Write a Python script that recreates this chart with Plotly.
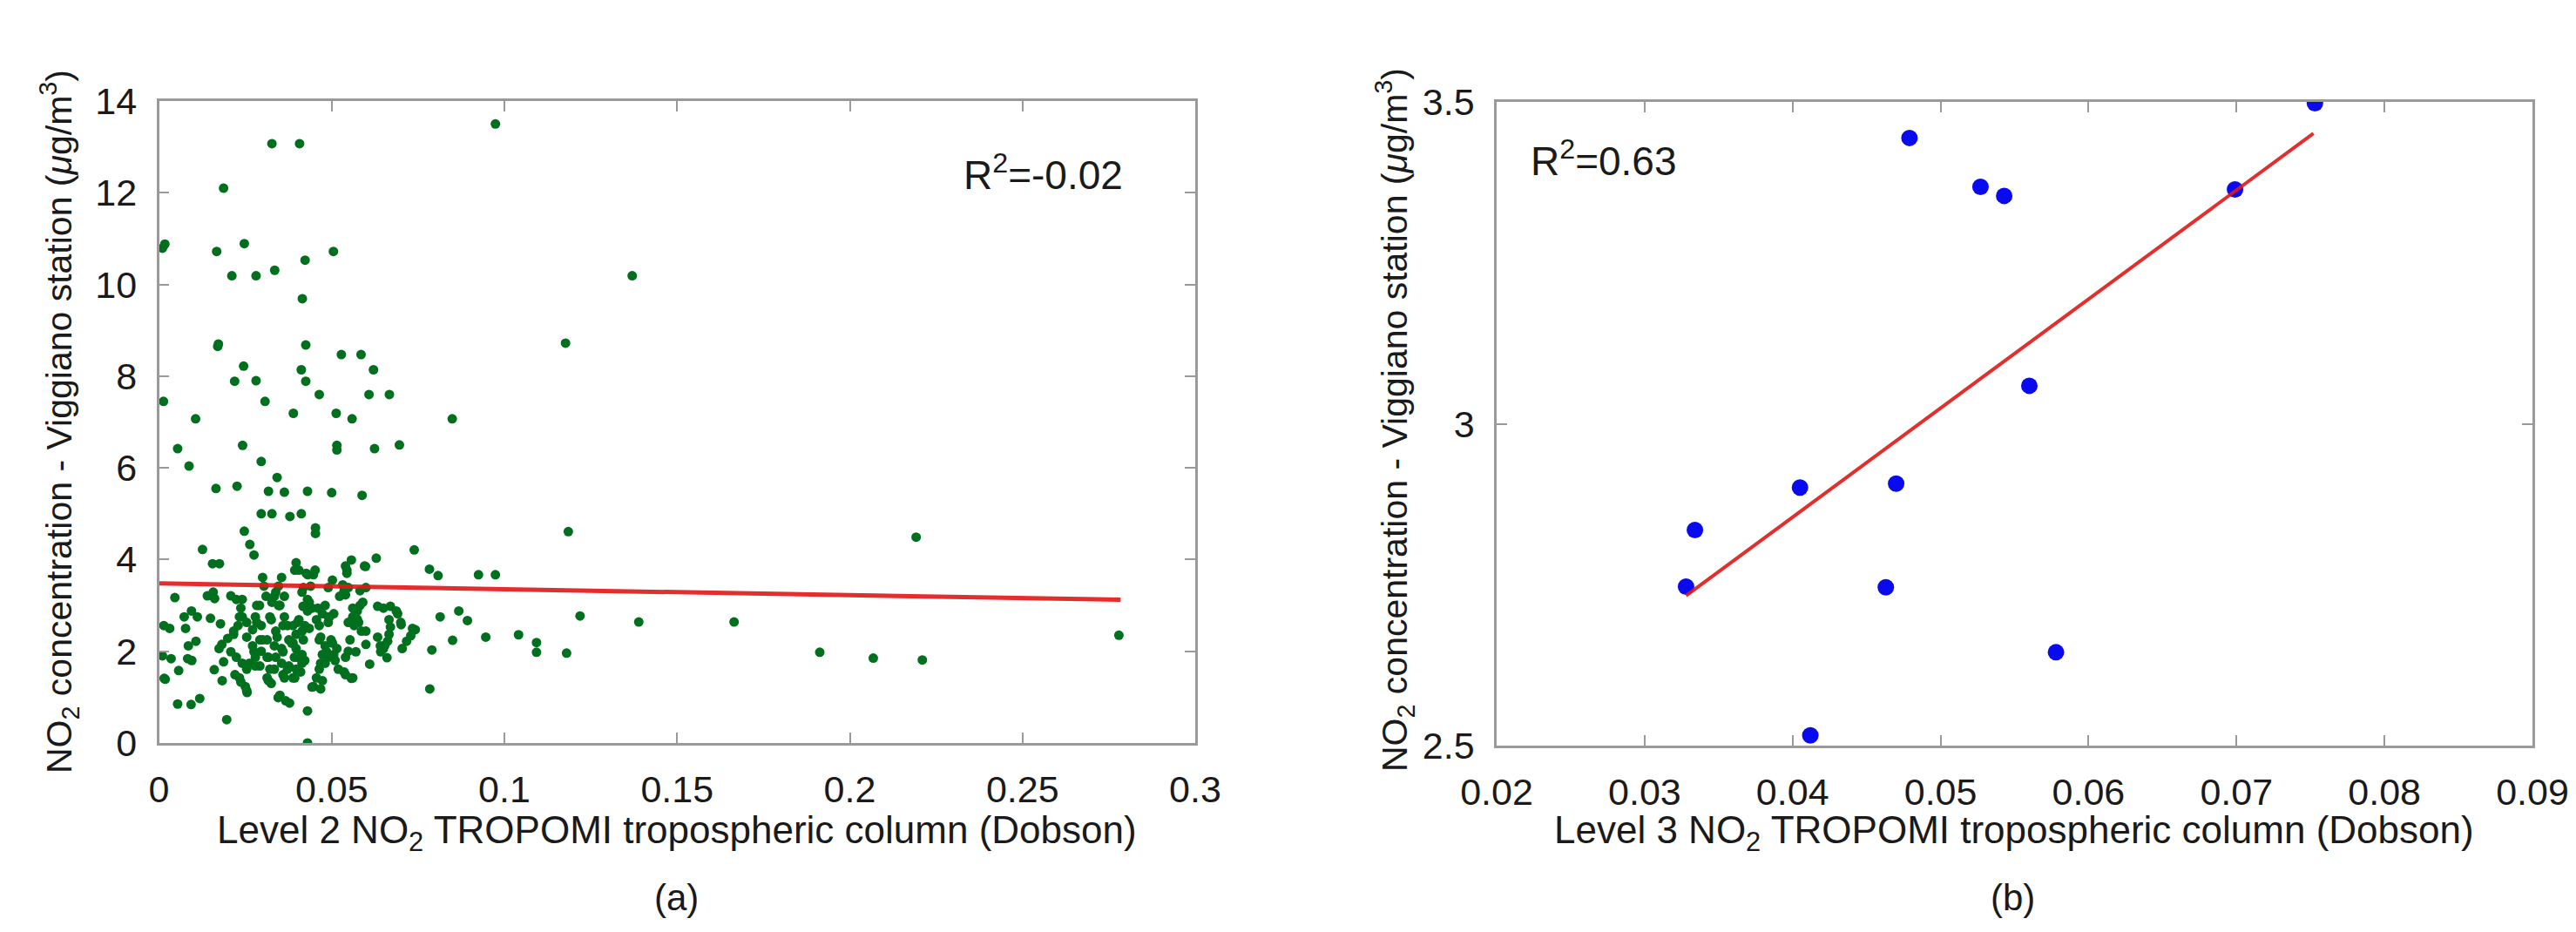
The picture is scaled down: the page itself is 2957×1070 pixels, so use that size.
import plotly.graph_objects as go

# ---------------- data: panel (a) Level 2 (x = column, y = NO2 concentration) ----------------
l2_upper = [(0.0974,13.50),(0.0327,13.07),(0.0407,13.07),(0.0187,12.10),(0.0010,10.79),(0.0017,10.88),
            (0.0167,10.72),(0.0247,10.89),(0.0505,10.72),(0.0423,10.53),(0.0211,10.19),(0.0281,10.19),
            (0.0335,10.31),(0.0415,9.69),(0.1370,10.19),(0.1177,8.72),(0.0170,8.65),(0.0172,8.70),
            (0.0425,8.68),(0.0528,8.47),(0.0585,8.47),(0.0245,8.22),(0.0412,8.14),(0.0621,8.14),
            (0.0219,7.89),(0.0281,7.90),(0.0425,7.89),(0.0013,7.45),(0.0307,7.45),(0.0464,7.60),
            (0.0608,7.60),(0.0667,7.60),(0.0106,7.07),(0.0389,7.19),(0.0513,7.19),(0.0559,7.07),
            (0.0849,7.07),(0.0054,6.42),(0.0242,6.49),(0.0515,6.49),(0.0515,6.39),(0.0624,6.42),
            (0.0696,6.50),(0.0087,6.04),(0.0296,6.14),(0.0342,5.79)]

l2_middle = [(0.0165,5.55),(0.0226,5.60),(0.0317,5.49),(0.0363,5.47),(0.0430,5.49),(0.0500,5.46),
             (0.0588,5.40),(0.0296,5.00),(0.0327,5.00),(0.0379,4.94),(0.0412,5.00),(0.0453,4.69),
             (0.0453,4.57),(0.0247,4.62),(0.0263,4.33),(0.0275,4.10),(0.0126,4.22),(0.0155,3.91),
             (0.0175,3.91),(0.1185,4.61),(0.0739,4.21),(0.0629,4.03),(0.0598,3.85),(0.0783,3.79),
             (0.0808,3.65),(0.0925,3.67),(0.0974,3.67),(0.0046,3.17),(0.1219,2.77),(0.1389,2.64),
             (0.0814,2.75),(0.0868,2.88),(0.0893,2.67),(0.0850,2.24),(0.0946,2.31),(0.1041,2.36),
             (0.1093,2.19),(0.1093,1.98),(0.1180,1.96),(0.0790,2.03),(0.0784,1.18),(0.0015,1.41),
             (0.0057,1.58),(0.0054,0.85),(0.0093,0.84),(0.0118,0.97),(0.0196,0.51),(0.0345,0.99),
             (0.0378,0.87),(0.0430,0.70),(0.0430,0.00),(0.0255,1.10),(0.0183,1.36),(0.0160,1.60),
             (0.0610,1.72),(0.0557,1.41),(0.0443,1.22),(0.0152,3.22),(0.0291,3.00),(0.0654,2.13),
             (0.0660,1.86),(0.0642,1.99),(0.0701,2.58),(0.0734,2.50)]

l2_far = [(0.1665,2.64),(0.1913,1.98),(0.2068,1.85),(0.2210,1.81),(0.2192,4.49),(0.2779,2.35)]

l2_cluster_left = [(0.0300,3.61),(0.0355,3.61),(0.0304,3.42),(0.0346,3.42),(0.0140,3.21),(0.0161,3.15),
                   (0.0157,3.29),(0.0208,3.21),(0.0224,3.13),(0.0241,3.13),(0.0237,2.94),(0.0233,2.75),
                   (0.0229,2.56),(0.0216,2.37),(0.0199,2.28),(0.0182,2.15),(0.0174,2.06),(0.0310,3.20),
                   (0.0327,3.07),(0.0349,3.00),(0.0014,2.56),(0.0031,2.50),(0.0073,2.75),(0.0094,2.88),
                   (0.0111,2.75),(0.0077,2.50),(0.0149,2.72),(0.0178,2.60),(0.0254,2.63),(0.0271,2.47),
                   (0.0254,2.31),(0.0085,2.12),(0.0107,2.22),(0.0010,1.90),(0.0035,1.84),(0.0083,1.84),
                   (0.0095,1.80),(0.0018,1.39),(0.0187,1.77),(0.0224,1.87),(0.0241,1.74),(0.0254,1.61),
                   (0.0279,1.68),(0.0220,1.49),(0.0237,1.33),(0.0254,1.14),(0.0313,1.42),(0.0325,1.30),
                   (0.0279,2.75),(0.0296,2.56),(0.0321,2.75),(0.0338,2.44),(0.0363,2.75),(0.0372,2.56),
                   (0.0376,2.25),(0.0355,2.06),(0.0334,2.12),(0.0313,2.25),(0.0292,2.25),(0.0271,2.12),
                   (0.0296,2.00),(0.0313,1.87),(0.0338,1.87),(0.0355,1.74),(0.0321,1.61),(0.0372,1.61),
                   (0.0363,1.42),(0.0279,1.87),(0.0262,1.74),(0.0338,3.29),(0.0363,3.20),(0.0346,3.00)]

l2_cluster_right = [(0.0397,3.93),(0.0405,3.77),(0.0431,3.67),(0.0447,3.67),(0.0452,3.77),(0.0557,3.99),
                    (0.0540,3.86),(0.0544,3.70),(0.0595,3.86),(0.0502,3.55),(0.0490,3.39),(0.0532,3.45),
                    (0.0548,3.39),(0.0582,3.32),(0.0599,3.39),(0.0418,3.39),(0.0439,3.42),(0.0414,3.29),
                    (0.0523,3.20),(0.0540,3.23),(0.0430,3.13),(0.0435,3.07),(0.0417,2.98),(0.0430,2.88),
                    (0.0481,3.00),(0.0473,2.82),(0.0456,2.69),(0.0490,2.75),(0.0506,2.82),(0.0464,2.56),
                    (0.0490,2.63),(0.0582,3.00),(0.0590,3.07),(0.0574,2.88),(0.0561,2.75),(0.0548,2.63),
                    (0.0565,2.56),(0.0586,2.44),(0.0599,2.44),(0.0574,2.70),(0.0633,2.98),(0.0650,2.94),
                    (0.0670,2.98),(0.0687,2.88),(0.0691,2.82),(0.0666,2.69),(0.0670,2.53),(0.0666,2.37),
                    (0.0662,2.22),(0.0650,2.06),(0.0633,2.31),(0.0641,2.12),(0.0700,2.63),(0.0742,2.47),
                    (0.0729,2.34),(0.0717,2.22),(0.0704,2.06),(0.0599,2.15),(0.0548,2.00),(0.0540,1.87),
                    (0.0519,1.61),(0.0540,1.49),(0.0388,2.56),(0.0405,2.69),(0.0422,2.56),(0.0397,2.37),
                    (0.0414,2.44),(0.0388,2.18),(0.0397,2.06),(0.0392,1.87),(0.0414,1.93),(0.0422,1.80),
                    (0.0464,2.25),(0.0481,2.12),(0.0498,2.25),(0.0515,2.06),(0.0473,1.93),(0.0490,1.87),
                    (0.0506,1.93),(0.0481,1.74),(0.0464,1.61),(0.0456,1.42),(0.0473,1.36),(0.0447,1.23),
                    (0.0414,1.74),(0.0397,1.61),(0.0388,1.42)]

l2_cluster_core = [(0.0241,2.75),(0.0216,2.44),(0.0283,2.63),(0.0325,2.69),(0.0359,2.56),(0.0401,2.63),
                   (0.0435,2.50),(0.0300,2.25),(0.0342,2.31),(0.0384,2.18),(0.0418,2.25),(0.0275,1.99),
                   (0.0317,1.87),(0.0359,1.99),(0.0401,1.87),(0.0292,1.68),(0.0334,1.61),(0.0376,1.68),
                   (0.0410,1.55),(0.0359,1.49),(0.0393,1.42),(0.0460,2.94),(0.0494,2.75),(0.0468,2.31),
                   (0.0502,2.18),(0.0485,1.99),(0.0510,1.80),(0.0468,1.74),(0.0536,1.55),(0.0561,1.42),
                   (0.0561,2.94),(0.0578,2.63),(0.0553,2.25),(0.0570,1.99),(0.0208,1.99),(0.0233,1.42),
                   (0.0250,1.23),(0.0317,1.36),(0.0350,1.04),(0.0367,0.92),(0.0468,1.18),(0.0393,3.77),
                   (0.0426,3.70),(0.0544,3.77),(0.0536,3.32),(0.0334,3.20),(0.0350,3.00),(0.0443,2.94),
                   (0.0283,3.00)]

l2_fit_x = [0.0, 0.2784]
l2_fit_y = [3.48, 3.125]
l2_r2 = "R<sup>2</sup>=-0.02"

# ---------------- data: panel (b) Level 3 ----------------
l3_x = [0.0328, 0.0334, 0.0405, 0.0412, 0.0463, 0.0470, 0.0479, 0.0527, 0.0543, 0.0560, 0.0578, 0.0699, 0.0753]
l3_y = [2.747, 2.835, 2.901, 2.516, 2.746, 2.907, 3.444, 3.368, 3.354, 3.059, 2.645, 3.364, 3.498]
l3_fit_x = [0.0328, 0.0752]
l3_fit_y = [2.733, 3.451]
l3_r2 = "R<sup>2</sup>=0.63"

l2_xticks = [0, 0.05, 0.1, 0.15, 0.2, 0.25, 0.3]
l2_xticklabels = ["0", "0.05", "0.1", "0.15", "0.2", "0.25", "0.3"]
l2_yticks = [0, 2, 4, 6, 8, 10, 12, 14]
l3_xticks = [0.02, 0.03, 0.04, 0.05, 0.06, 0.07, 0.08, 0.09]
l3_xticklabels = ["0.02", "0.03", "0.04", "0.05", "0.06", "0.07", "0.08", "0.09"]
l3_yticks = [2.5, 3, 3.5]
l3_yticklabels = ["2.5", "3", "3.5"]

ylabel = "NO<sub>2</sub> concentration - Viggiano station (<i>μ</i>g/m<sup>3</sup>)"
xlabel_a = "Level 2 NO<sub>2</sub> TROPOMI tropospheric column (Dobson)"
xlabel_b = "Level 3 NO<sub>2</sub> TROPOMI tropospheric column (Dobson)"

# ---------------- figure ----------------
W, H = 2957, 1070
FONT = "Liberation Sans, Arial, Helvetica, sans-serif"
TXT = "#1a1a1a"
GREEN = "#00701e"
BLUE = "#0a0af0"
RED = "#e01818"
AXC = "#9a9a9a"
TICK_SIZE = 43

l2_all = l2_upper + l2_middle + l2_far + l2_cluster_left + l2_cluster_right + l2_cluster_core
l2_x = [p[0] for p in l2_all]
l2_y = [p[1] for p in l2_all]

fig = go.Figure()
fig.add_trace(go.Scatter(x=l2_x, y=l2_y, mode="markers", xaxis="x", yaxis="y",
                         marker=dict(color=GREEN, size=11, line=dict(width=0)), showlegend=False))
fig.add_trace(go.Scatter(x=l2_fit_x, y=l2_fit_y, mode="lines", xaxis="x", yaxis="y",
                         line=dict(color=RED, width=5), opacity=0.9, showlegend=False))
fig.add_trace(go.Scatter(x=l3_x, y=l3_y, mode="markers", xaxis="x2", yaxis="y2",
                         marker=dict(color=BLUE, size=19, line=dict(width=0)), showlegend=False))
fig.add_trace(go.Scatter(x=l3_fit_x, y=l3_fit_y, mode="lines", xaxis="x2", yaxis="y2",
                         line=dict(color=RED, width=4), opacity=0.9, showlegend=False))

axis_common = dict(showline=True, linecolor=AXC, linewidth=2.5, mirror="ticks", ticks="inside",
                   ticklen=12, tickwidth=1.5, tickcolor=AXC, showgrid=False, zeroline=False,
                   automargin=False, tickfont=dict(family=FONT, color=TXT, size=TICK_SIZE))

fig.update_layout(
    width=W, height=H, paper_bgcolor="white", plot_bgcolor="white",
    margin=dict(l=0, r=0, t=0, b=0),
    font=dict(family=FONT, color=TXT),
    xaxis=dict(domain=[174.5 / W, 1364 / W], range=[0, 0.3], tickvals=l2_xticks,
               ticktext=l2_xticklabels, anchor="y", ticklabelstandoff=14, **axis_common),
    yaxis=dict(domain=[(H - 845) / H, (H - 108) / H], range=[0, 14], tickvals=l2_yticks,
               anchor="x", ticklabelstandoff=14, **axis_common),
    xaxis2=dict(domain=[1710 / W, 2899 / W], range=[0.02, 0.09], tickvals=l3_xticks,
                ticktext=l3_xticklabels, anchor="y2", ticklabelstandoff=14, **axis_common),
    yaxis2=dict(domain=[(H - 848) / H, (H - 109) / H], range=[2.5, 3.5], tickvals=l3_yticks,
                ticktext=l3_yticklabels, anchor="x2", ticklabelstandoff=14, **axis_common),
)

ann = [
    dict(text=ylabel, x=60 / W, y=(H - 476) / H, textangle=-90, font=dict(size=41)),
    dict(text=ylabel, x=1593 / W, y=(H - 474) / H, textangle=-90, font=dict(size=41)),
    dict(text=xlabel_a, x=769 / W, y=(H - 948) / H, font=dict(size=44)),
    dict(text=xlabel_b, x=2304 / W, y=(H - 948) / H, font=dict(size=44)),
    dict(text="(a)", x=768 / W, y=(H - 1022) / H, font=dict(size=42)),
    dict(text="(b)", x=2302 / W, y=(H - 1022) / H, font=dict(size=42)),
    dict(text=l2_r2, x=1096 / W, y=(H - 190) / H, xanchor="left", font=dict(size=46)),
    dict(text=l3_r2, x=1747 / W, y=(H - 174) / H, xanchor="left", font=dict(size=46)),
]
for a in ann:
    a.setdefault("xanchor", "center")
    a.update(xref="paper", yref="paper", yanchor="middle", showarrow=False)
    a["font"] = dict(family=FONT, color=TXT, **a["font"])
fig.update_layout(annotations=ann)

fig.write_html("out.html")
